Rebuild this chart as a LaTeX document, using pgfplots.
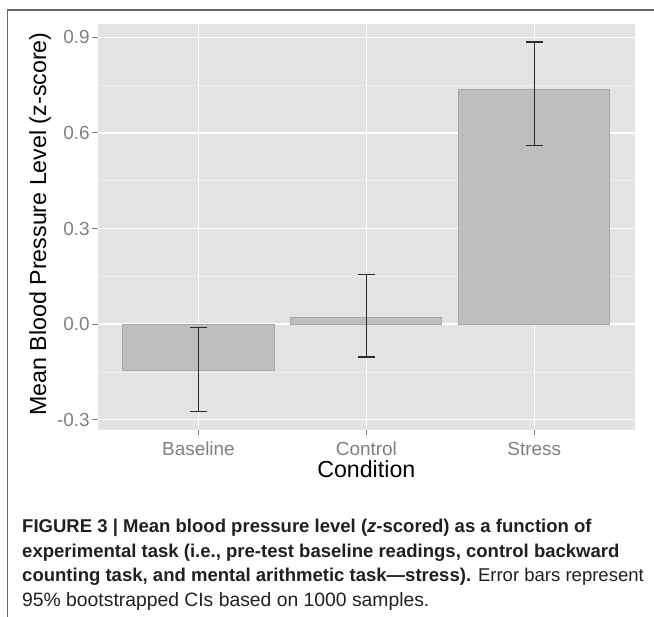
\documentclass[border=0pt]{standalone}
\usepackage{pgfplots}
\pgfplotsset{compat=1.18}
\usepackage{fontspec}
\setmainfont{Liberation Sans}

\definecolor{panelbg}{HTML}{E3E3E3}
\definecolor{minorgrid}{HTML}{EFEFEF}
\definecolor{barfill}{HTML}{BEBEBE}
\definecolor{barline}{HTML}{A8A8A8}
\definecolor{ticktext}{HTML}{7F7F7F}
\definecolor{errline}{HTML}{2B2B2B}
\definecolor{framegray}{HTML}{666666}
\definecolor{captext}{HTML}{231F20}

\begin{document}
\begin{tikzpicture}[x=1bp,y=1bp]
\useasboundingbox (0,0) rectangle (654,617);
\draw[framegray, line width=1.5bp] (7.3,0) -- (7.3,607) -- (654,607);

\begin{axis}[
  at={(97.7bp,187bp)}, anchor=south west,
  scale only axis, width=537.3bp, height=406.3bp,
  xmin=0.4, xmax=3.6, ymin=-0.332, ymax=0.943,
  axis line style={draw=none},
  axis background/.style={fill=panelbg},
  xtick={1,2,3}, xticklabels={Baseline,Control,Stress},
  ytick={-0.3,0,0.3,0.6,0.9}, yticklabels={-0.3,0.0,0.3,0.6,0.9},
  minor ytick={-0.15,0.15,0.45,0.75},
  xtick pos=bottom, ytick pos=left,
  grid=both,
  major grid style={draw=white, line width=1.4bp},
  minor grid style={draw=minorgrid, line width=0.8bp},
  tick align=outside, major tick length=5.5bp, minor tick length=0pt,
  tick style={draw=ticktext, line width=1bp},
  tick label style={font=\fontsize{19}{21}\selectfont, text=ticktext},
  xticklabel style={anchor=base, yshift=-20.5bp},
  yticklabel style={anchor=east, xshift=1bp},
]
\addplot[ybar, bar width=0.9, fill=barfill, draw=barline, line width=0.9bp,
  error bars/.cd, y dir=both, y explicit,
  error bar style={draw=errline, line width=1.4bp},
  error mark options={rotate=90, draw=errline, line width=1.4bp, mark size=8.35bp}]
  coordinates {
    (1,-0.1456) += (0,0.1349) -= (0,0.1284)
    (2,0.0207)  += (0,0.1353) -= (0,0.1233)
    (3,0.738)   += (0,0.147)  -= (0,0.178)
  };
\end{axis}

\node[rotate=90, anchor=base, font=\fontsize{23.3}{26}\selectfont] at (46,393) {Mean Blood Pressure Level (z-score)};
\node[anchor=base, font=\fontsize{23.3}{26}\selectfont] at (366.3,139) {Condition};

\begin{scope}[every node/.style={anchor=base west, inner sep=0pt, text=captext, font=\fontsize{18.6}{20}\selectfont}]
\node at (22,84) {\bfseries FIGURE 3 | Mean blood pressure level (\textit{z}-scored) as a function of};
\node at (22,59.5) {\bfseries experimental task (i.e., pre-test baseline readings, control backward};
\node at (22,35) {{\bfseries counting task, and mental arithmetic task—stress).} Error bars represent};
\node at (22,10.5) {\fontsize{19.4}{20}\selectfont 95\% bootstrapped CIs based on 1000 samples.};
\end{scope}
\end{tikzpicture}
\end{document}
